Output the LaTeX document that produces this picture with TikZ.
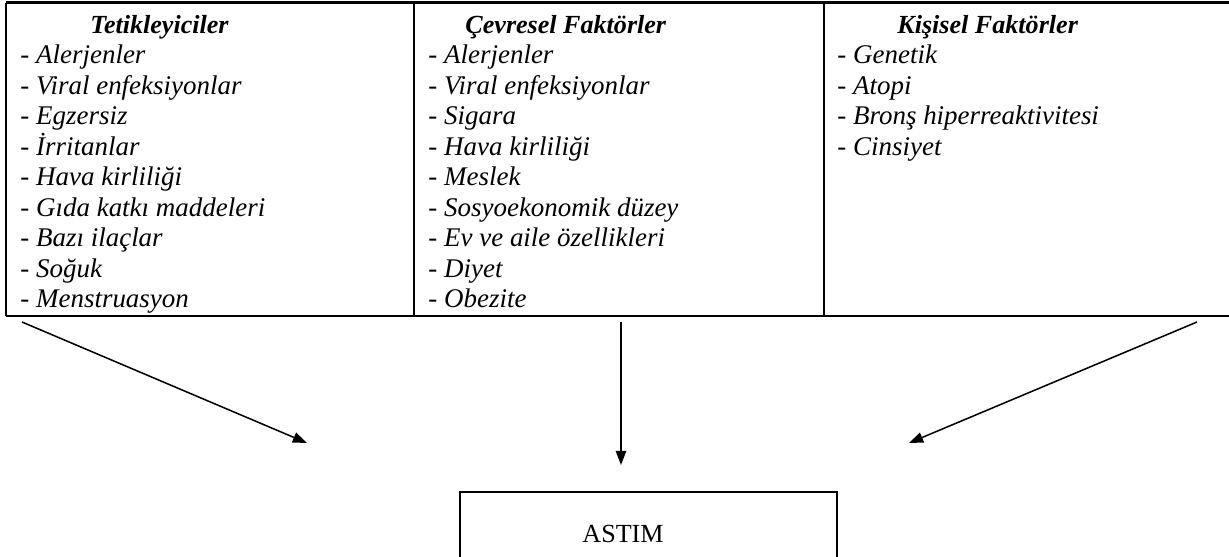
\documentclass[tikz,border=0pt]{standalone}
\usepackage{fontspec}
\setmainfont{Liberation Serif}
\usetikzlibrary{arrows.meta}
\begin{document}
\begin{tikzpicture}[x=0.46pt,y=-0.46pt,
  tline/.style={line width=0.95pt},
  head/.style={anchor=base west,inner sep=0pt,font=\fontsize{12}{14}\selectfont\bfseries\itshape},
  item/.style={anchor=base west,inner sep=0pt,font=\fontsize{12.4}{14}\selectfont\itshape},
  arr/.style={line width=0.7pt,-{Triangle[length=6.5pt,width=4.8pt]}}]
\useasboundingbox (0,0) rectangle (1229,556);
% table
\coordinate (tl) at (6,2.5);
\coordinate (tr) at (1229,2.5);
\coordinate (bl) at (6,316);
\coordinate (br) at (1229,316);
\coordinate (d1t) at (414,2.5);
\coordinate (d1b) at (414,316);
\coordinate (d2t) at (824,2.5);
\coordinate (d2b) at (824,316);
\draw[tline] (tl) -- (tr);
\draw[tline] (bl) -- (br);
\draw[tline] (tl) -- (bl);
\draw[tline] (d1t) -- (d1b);
\draw[tline] (d2t) -- (d2b);
% column 1
\node[head] (h1) at (90,33) {Tetikleyiciler};
\foreach \t [count=\i] in {Alerjenler,Viral enfeksiyonlar,Egzersiz,İrritanlar,Hava kirliliği,Gıda katkı maddeleri,Bazı ilaçlar,Soğuk,Menstruasyon}
  \node[item] (a\i) at (20,{33+30.5*\i}) {- \t};
% column 2
\node[head] (h2) at (465,33) {Çevresel Faktörler};
\foreach \t [count=\i] in {Alerjenler,Viral enfeksiyonlar,Sigara,Hava kirliliği,Meslek,Sosyoekonomik düzey,Ev ve aile özellikleri,Diyet,Obezite}
  \node[item] (b\i) at (428,{33+30.5*\i}) {- \t};
% column 3
\node[head] (h3) at (897,33) {Kişisel Faktörler};
\foreach \t [count=\i] in {Genetik,Atopi,Bronş hiperreaktivitesi,Cinsiyet}
  \node[item] (c\i) at (837,{33+30.5*\i}) {- \t};
% ASTIM box
\node[inner sep=0pt,minimum width=377*0.46pt,minimum height=66*0.46pt] (astim) at (648.5,525) {};
\node[anchor=base,inner sep=0pt,font=\fontsize{12}{14}\selectfont] (astimt) at (623,542) {ASTIM};
\draw[tline] ([yshift=-2pt]astim.south west) |- (astim.north east) -- ([yshift=-2pt]astim.south east);
% arrows
\coordinate (s1) at (22,322);
\coordinate (e1) at (307,443);
\coordinate (s2) at (621,322);
\coordinate (e2) at (621,465);
\coordinate (s3) at (1197,322);
\coordinate (e3) at (909,443);
\draw[arr] (s1) -- (e1);
\draw[arr] (s2) -- (e2);
\draw[arr] (s3) -- (e3);
\end{tikzpicture}
\end{document}
